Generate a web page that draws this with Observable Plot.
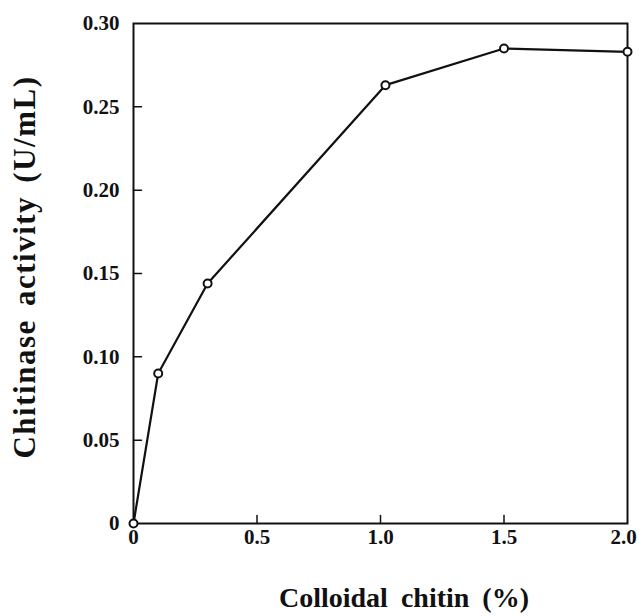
<!DOCTYPE html>
<html><head><meta charset="utf-8">
<script src="https://cdn.jsdelivr.net/npm/d3@7"></script>
<script src="https://cdn.jsdelivr.net/npm/@observablehq/plot@0.6"></script>
<style>
body{margin:0;background:#fff;}
#chart{position:relative;width:639px;height:616px;}
</style></head>
<body><div id="chart"></div>
<script>
const chitin = [0, 0.1, 0.3, 1.02, 1.5, 2.0];
const activity = [0, 0.090, 0.144, 0.263, 0.285, 0.283];
const xTicks = [0, 0.5, 1.0, 1.5, 2.0];
const yTicks = [0, 0.05, 0.10, 0.15, 0.20, 0.25, 0.30];
const xLabel = "Colloidal chitin (%)";
const yLabel = "Chitinase activity (U/mL)";

const data = chitin.map((c, i) => ({x: c, y: activity[i]}));
const font = "'Liberation Serif', 'DejaVu Serif', serif";
const tickShape = {draw(ctx, l) { ctx.moveTo(0, 0); ctx.lineTo(0, -l); }};
const xFmt = d => d === 0 ? "0" : d.toFixed(1);

const plot = Plot.plot({
  width: 639, height: 616,
  marginLeft: 133, marginRight: 12, marginTop: 23, marginBottom: 93,
  style: {fontFamily: font, fontSize: "21px", fontWeight: "bold", color: "#111", background: "#fff"},
  x: {domain: [0, 2], label: null},
  y: {domain: [0, 0.30], label: null},
  marks: [
    Plot.frame({stroke: "#111", strokeWidth: 2}),
    Plot.axisX({ticks: xTicks.slice(0, -1), tickSize: 0, tickPadding: 6,
      tickFormat: xFmt, fontWeight: "bold", fontSize: 21}),
    Plot.axisX({ticks: xTicks.slice(-1), tickSize: 0, tickPadding: 6, dx: -4,
      tickFormat: xFmt, fontWeight: "bold", fontSize: 21}),
    Plot.axisY({ticks: yTicks, tickSize: 0, tickPadding: 14,
      tickFormat: d => d === 0 ? "0" : d.toFixed(2), fontWeight: "bold", fontSize: 21}),
    Plot.vector(xTicks.slice(1, -1), {x: d => d, y: 0, length: 8, rotate: 0, anchor: "start",
      shape: tickShape, stroke: "#111", strokeWidth: 1.5}),
    Plot.vector(yTicks.slice(1, -1), {x: 0, y: d => d, length: 8, rotate: 90, anchor: "start",
      shape: tickShape, stroke: "#111", strokeWidth: 1.5}),
    Plot.line(data, {x: "x", y: "y", stroke: "#111", strokeWidth: 2.2}),
    Plot.dot(data, {x: "x", y: "y", r: 4, fill: "#fff", stroke: "#111", strokeWidth: 2})
  ]
});
document.getElementById("chart").appendChild(plot);

const svg = d3.select(plot);
svg.append("text")
  .attr("x", 404).attr("y", 607)
  .attr("text-anchor", "middle")
  .attr("fill", "#111")
  .style("font-family", font).style("font-weight", "bold").style("font-size", "28px")
  .style("word-spacing", "6px")
  .text(xLabel);
svg.append("text")
  .attr("transform", "translate(35,267) rotate(-90)")
  .attr("text-anchor", "middle")
  .attr("fill", "#111")
  .style("font-family", font).style("font-weight", "bold").style("font-size", "31px")
  .style("letter-spacing", "1.5px").style("word-spacing", "4px")
  .text(yLabel);
</script>
</body></html>
